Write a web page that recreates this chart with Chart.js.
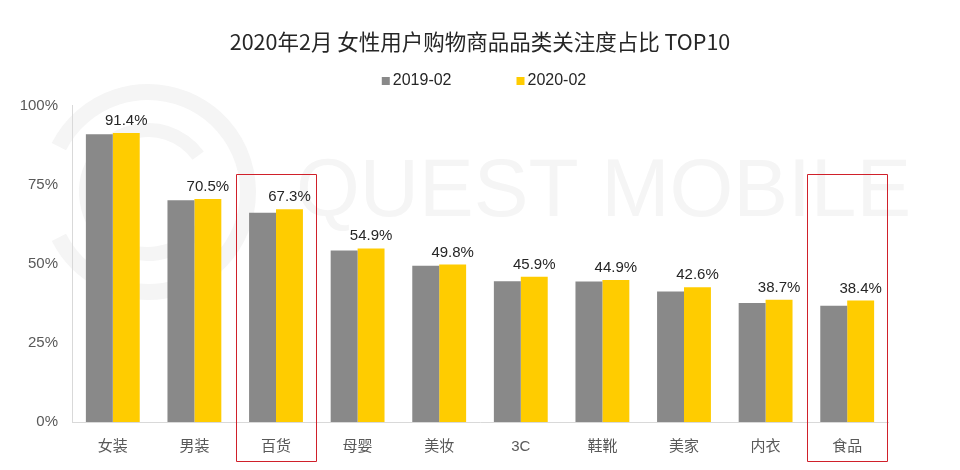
<!DOCTYPE html>
<html>
<head>
<meta charset="utf-8">
<script src="https://cdn.jsdelivr.net/npm/chart.js@4"></script>
<style>
  html, body { margin: 0; padding: 0; background: #fff; }
  #wrap { width: 960px; height: 470px; }
</style>
</head>
<body>
<div id="wrap"><canvas id="c" width="960" height="470"></canvas></div>
<script>
const titleText = '2020年2月 女性用户购物商品品类关注度占比 TOP10';
const categories = ['女装', '男装', '百货', '母婴', '美妆', '3C', '鞋靴', '美家', '内衣', '食品'];
const seriesNames = ['2019-02', '2020-02'];
const values2019 = [91.0, 70.1, 66.2, 54.2, 49.4, 44.5, 44.4, 41.3, 37.6, 36.8];
const values2020 = [91.4, 70.5, 67.3, 54.9, 49.8, 45.9, 44.9, 42.6, 38.7, 38.4];
const yTicks = [0, 25, 50, 75, 100];
const highlighted = ['百货', '食品'];
const highlightTop = 78.4;

const GRAY = '#898989';
const YELLOW = '#FFCC00';
const LATIN = '"Liberation Sans", Arial, "Noto Sans CJK SC", sans-serif';
const CJK = '"Noto Sans CJK SC", "Liberation Sans", sans-serif';

const bgPlugin = {
  id: 'bg',
  beforeDraw(chart) {
    const ctx = chart.ctx;
    ctx.save();
    ctx.fillStyle = '#ffffff';
    ctx.fillRect(0, 0, chart.width, chart.height);
    // watermark logo rings
    ctx.strokeStyle = '#f5f5f5';
    ctx.lineWidth = 16;
    ctx.beginPath();
    ctx.arc(148, 192, 100, Math.PI * 1.15, Math.PI * 2.85);
    ctx.stroke();
    ctx.lineWidth = 14;
    ctx.beginPath();
    ctx.arc(148, 192, 62, Math.PI * 0.2, Math.PI * 1.8);
    ctx.stroke();
    // watermark text
    ctx.fillStyle = '#f5f5f5';
    ctx.font = '82px "Liberation Sans", Arial, sans-serif';
    ctx.textBaseline = 'alphabetic';
    ctx.textAlign = 'left';
    ctx.fillText('QUEST MOBILE', 296, 216);
    ctx.restore();
  }
};

const overlayPlugin = {
  id: 'overlay',
  afterDatasetsDraw(chart) {
    const ctx = chart.ctx;
    const xs = chart.scales.x, ys = chart.scales.y;
    // data labels on 2020 series
    const meta = chart.getDatasetMeta(1);
    ctx.save();
    ctx.fillStyle = '#262626';
    ctx.font = '15px ' + LATIN;
    ctx.textAlign = 'center';
    ctx.textBaseline = 'alphabetic';
    meta.data.forEach((bar, i) => {
      ctx.fillText(values2020[i].toFixed(1) + '%', bar.x, bar.y - 8);
    });
    // highlight boxes
    const step = xs.getPixelForValue(1) - xs.getPixelForValue(0);
    highlighted.forEach(name => {
      const idx = categories.indexOf(name);
      const cx = xs.getPixelForValue(idx);
      const top = ys.getPixelForValue(highlightTop);
      const bottom = chart.chartArea.bottom + 39;
      ctx.strokeStyle = '#d0202a';
      ctx.lineWidth = 1;
      ctx.beginPath();
      ctx.rect(Math.round(cx - step / 2 + 1) + 0.5, Math.round(top) + 0.5,
        Math.round(step - 2), Math.round(bottom - top));
      ctx.stroke();
    });
    // custom legend
    ctx.font = '16px ' + LATIN;
    ctx.textAlign = 'left';
    ctx.textBaseline = 'middle';
    const colors = [GRAY, YELLOW];
    const box = 8, gapBox = 3, gapItem = 65;
    const widths = seriesNames.map(s => ctx.measureText(s).width);
    const total = widths.reduce((a, w) => a + box + gapBox + w, 0) + gapItem * (seriesNames.length - 1);
    let x = chart.width / 2 + 4 - total / 2;
    const ly = 81;
    seriesNames.forEach((s, i) => {
      ctx.fillStyle = colors[i];
      ctx.fillRect(x, ly - 4, box, box);
      ctx.fillStyle = '#262626';
      ctx.fillText(s, x + box + gapBox, ly);
      x += box + gapBox + widths[i] + gapItem;
    });
    ctx.restore();
  }
};

new Chart(document.getElementById('c'), {
  type: 'bar',
  data: {
    labels: categories,
    datasets: [
      { label: seriesNames[0], data: values2019, backgroundColor: GRAY, categoryPercentage: 0.66, barPercentage: 1.0 },
      { label: seriesNames[1], data: values2020, backgroundColor: YELLOW, categoryPercentage: 0.66, barPercentage: 1.0 }
    ]
  },
  options: {
    responsive: false,
    animation: false,
    devicePixelRatio: 1,
    layout: { padding: { left: 0, right: 0, top: 0, bottom: 16 } },
    plugins: {
      legend: { display: false },
      tooltip: { enabled: false },
      title: {
        display: true,
        text: titleText,
        color: '#262626',
        font: { family: CJK, size: 21.5, weight: 'normal' },
        padding: { top: 29, bottom: 51 }
      }
    },
    scales: {
      x: {
        afterFit(scale) { scale.height = 32; },
        grid: { display: false, drawTicks: false },
        border: { display: true, color: '#d9d9d9' },
        ticks: { color: '#595959', font: { family: LATIN, size: 15 }, padding: 16 }
      },
      y: {
        min: 0,
        max: 100,
        afterBuildTicks(scale) { scale.ticks = yTicks.map(v => ({ value: v })); },
        afterFit(scale) { scale.width = 72; },
        grid: { display: false, drawTicks: false },
        border: { display: true, color: '#d9d9d9' },
        ticks: {
          color: '#595959',
          font: { family: LATIN, size: 15 },
          padding: 14,
          callback: v => v + '%'
        }
      },
      yRight: {
        position: 'right',
        display: true,
        afterFit(scale) { scale.width = 72; },
        grid: { display: false, drawTicks: false },
        border: { display: false },
        ticks: { display: false }
      }
    }
  },
  plugins: [bgPlugin, overlayPlugin]
});
</script>
</body>
</html>
